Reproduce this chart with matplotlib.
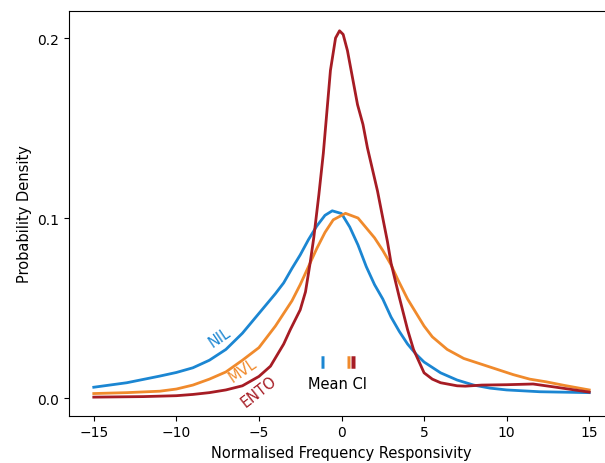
"""
Density of normalised frequency responsivity for NIL, MVL and ENTO.
"""
import matplotlib
matplotlib.use("Agg")
import matplotlib.pyplot as plt

# NIL (blue)
nil_x = [-15, -13, -11, -10, -9, -8, -7, -6, -5, -4, -3.5, -3, -2.5, -2, -1.5,
         -1, -0.56, 0, 0.5, 1, 1.5, 2, 2.5, 3, 3.5, 4, 4.5, 5, 6, 7, 8, 9, 10,
         12, 15]
nil_y = [0.006, 0.0085, 0.0122, 0.0142, 0.0168, 0.021, 0.027, 0.036, 0.047,
         0.058, 0.064, 0.072, 0.0795, 0.088, 0.0955, 0.1015, 0.104, 0.1025,
         0.095, 0.085, 0.073, 0.063, 0.055, 0.045, 0.037, 0.030, 0.0245, 0.020,
         0.014, 0.010, 0.0072, 0.0055, 0.0045, 0.0035, 0.003]

# MVL (orange)
mvl_x = [-15, -13, -11, -10, -9, -8, -7, -6, -5, -4, -3, -2.5, -2, -1.5, -1,
         -0.5, 0.24, 1, 1.5, 2, 2.5, 3, 3.4, 4, 4.4, 5, 5.5, 6.4, 7.4, 8.4,
         9.4, 10.4, 11.4, 12.4, 13.5, 15]
mvl_y = [0.0025, 0.003, 0.0038, 0.005, 0.0072, 0.0105, 0.0145, 0.021, 0.028,
         0.040, 0.054, 0.063, 0.073, 0.083, 0.092, 0.099, 0.1026, 0.100,
         0.0945, 0.089, 0.082, 0.074, 0.066, 0.055, 0.049, 0.040, 0.034,
         0.027, 0.022, 0.019, 0.016, 0.013, 0.0105, 0.009, 0.007, 0.0045]

# ENTO (dark red)
ento_x = [-15, -12, -10, -9, -8, -7, -6, -5, -4.3, -3.5, -3.1, -2.5, -2.18,
          -1.9, -1.68, -1.37, -1.1, -0.67, -0.36, -0.12, 0.1, 0.36, 0.97, 1.3,
          1.57, 2.18, 2.5, 2.78, 3.0, 3.5, 4.0, 4.36, 5, 5.5, 6, 7, 7.5, 8.5,
          10, 11.6, 13, 15]
ento_y = [0.0005, 0.0008, 0.0013, 0.002, 0.003, 0.0045, 0.0068, 0.012, 0.0177,
          0.030, 0.038, 0.049, 0.059, 0.075, 0.089, 0.113, 0.136, 0.182, 0.200,
          0.204, 0.202, 0.193, 0.163, 0.152, 0.139, 0.115, 0.100, 0.087, 0.075,
          0.056, 0.038, 0.027, 0.014, 0.0105, 0.0085, 0.0068, 0.0066, 0.0072,
          0.0074, 0.0078, 0.006, 0.0033]

# mean confidence intervals (lo, hi) per group
ci_lo = [-1.23, 0.34, 0.59]
ci_hi = [-1.03, 0.54, 0.80]
ci_level = 0.02

names = ["NIL", "MVL", "ENTO"]
colors = ["#1b86d2", "#f08a2c", "#a61c24"]
label_pos = [(-7.4, 0.034, 34), (-5.95, 0.0155, 34), (-5.0, 0.004, 38)]

fig = plt.figure(figsize=(6.05, 4.64), dpi=100)
# the reference is cropped on the right, so the axes run past the canvas
ax = fig.add_axes([69 / 605, 47.5 / 464, 545 / 605, 404.5 / 464])
ax.spines["right"].set_visible(False)

curves = [(nil_x, nil_y), (mvl_x, mvl_y), (ento_x, ento_y)]
for (xs, ys), c in zip(curves, colors):
    ax.plot(xs, ys, color=c, lw=2)

for name, c, (lx, ly, rot) in zip(names, colors, label_pos):
    ax.text(lx, ly, name, color=c, rotation=rot, ha="center", va="center",
            fontsize=10.5)

# CI marks drawn as short thick horizontal segments
for lo, hi, c in zip(ci_lo, ci_hi, colors):
    ax.plot([lo, hi], [ci_level, ci_level], color=c, lw=9,
            solid_capstyle="butt")
ax.text(-0.25, 0.0083, "Mean CI", ha="center", va="center", fontsize=10.5)

ax.set_xlim(-16.5, 16.5)
ax.set_ylim(-0.0097, 0.2150)
ax.set_xticks([-15, -10, -5, 0, 5, 10, 15])
ax.set_yticks([0.0, 0.1, 0.2])
ax.set_xlabel("Normalised Frequency Responsivity", fontsize=10.5)
ax.set_ylabel("Probability Density", fontsize=10.5)

fig.savefig("out.png", dpi=100)
plt.close(fig)
